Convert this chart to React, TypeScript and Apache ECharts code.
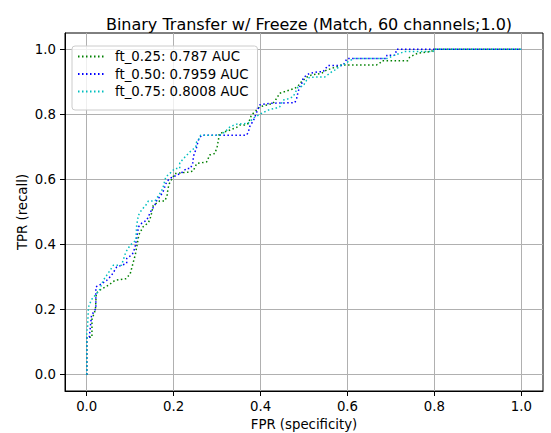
import React, { useEffect, useRef } from "react";
import * as echarts from "echarts";

const TITLE = "Binary Transfer w/ Freeze (Match, 60 channels;1.0)";
const X_NAME = "FPR (specificity)";
const Y_NAME = "TPR (recall)";
const TICKS = [0, 0.2, 0.4, 0.6, 0.8, 1.0];

const NAMES = ["ft_0.25: 0.787 AUC", "ft_0.50: 0.7959 AUC", "ft_0.75: 0.8008 AUC"];
const COLORS = ["#008000", "#0000ff", "#00bfbf"];

const ROC_025: [number, number][] = [
  [0, 0], [0, 0.115], [0.012, 0.115], [0.012, 0.17], [0.02, 0.2], [0.022, 0.25], [0.03, 0.26],
  [0.05, 0.275], [0.065, 0.29], [0.09, 0.295], [0.1, 0.31], [0.107, 0.345], [0.112, 0.37],
  [0.116, 0.4], [0.12, 0.43], [0.13, 0.455], [0.14, 0.465], [0.145, 0.475], [0.15, 0.5],
  [0.153, 0.52], [0.168, 0.534], [0.18, 0.534], [0.185, 0.552], [0.187, 0.572], [0.19, 0.587],
  [0.203, 0.618], [0.234, 0.623], [0.245, 0.626], [0.253, 0.649], [0.276, 0.654], [0.283, 0.675],
  [0.295, 0.68], [0.3, 0.7], [0.303, 0.72], [0.305, 0.741], [0.33, 0.752], [0.345, 0.76],
  [0.352, 0.767], [0.364, 0.767], [0.372, 0.772], [0.379, 0.798], [0.387, 0.808], [0.398, 0.823],
  [0.429, 0.834], [0.437, 0.849], [0.444, 0.865], [0.456, 0.87], [0.479, 0.88], [0.486, 0.887],
  [0.494, 0.9], [0.506, 0.914], [0.517, 0.921], [0.54, 0.926], [0.552, 0.936], [0.563, 0.941],
  [0.575, 0.946], [0.586, 0.952], [0.667, 0.952], [0.674, 0.957], [0.68, 0.965], [0.739, 0.965],
  [0.743, 0.975], [0.752, 0.982], [0.762, 0.988], [0.793, 0.993], [0.8, 1.0], [1.0, 1.0],
];

const ROC_050: [number, number][] = [
  [0, 0], [0, 0.116], [0.006, 0.116], [0.011, 0.182], [0.021, 0.203], [0.021, 0.27], [0.029, 0.275],
  [0.046, 0.29], [0.057, 0.305], [0.069, 0.331], [0.092, 0.342], [0.092, 0.357], [0.105, 0.37],
  [0.111, 0.39], [0.115, 0.42], [0.119, 0.454], [0.126, 0.465], [0.138, 0.475], [0.149, 0.506],
  [0.157, 0.521], [0.159, 0.531], [0.175, 0.56], [0.184, 0.593], [0.191, 0.603], [0.207, 0.613],
  [0.218, 0.62], [0.23, 0.634], [0.239, 0.634], [0.245, 0.654], [0.245, 0.669], [0.252, 0.695],
  [0.257, 0.721], [0.26, 0.729], [0.265, 0.736], [0.368, 0.736], [0.372, 0.746], [0.375, 0.762],
  [0.385, 0.785], [0.39, 0.803], [0.398, 0.829], [0.421, 0.834], [0.479, 0.836], [0.483, 0.849],
  [0.486, 0.867], [0.49, 0.885], [0.494, 0.89], [0.498, 0.911], [0.506, 0.921], [0.513, 0.926],
  [0.532, 0.931], [0.544, 0.931], [0.555, 0.95], [0.59, 0.95], [0.599, 0.972], [0.689, 0.972],
  [0.691, 0.982], [0.71, 0.982], [0.713, 1.0], [1.0, 1.0],
];

const ROC_075: [number, number][] = [
  [0, 0], [0, 0.13], [0.002, 0.15], [0.004, 0.208], [0.011, 0.231], [0.02, 0.245], [0.029, 0.259],
  [0.038, 0.29], [0.054, 0.321], [0.061, 0.336], [0.08, 0.336], [0.09, 0.377], [0.1, 0.398],
  [0.113, 0.413], [0.115, 0.46], [0.119, 0.49], [0.126, 0.506], [0.136, 0.521], [0.142, 0.534],
  [0.157, 0.534], [0.17, 0.56], [0.175, 0.572], [0.182, 0.608], [0.191, 0.618], [0.203, 0.634],
  [0.214, 0.634], [0.214, 0.651], [0.226, 0.669], [0.237, 0.684], [0.251, 0.7], [0.253, 0.716],
  [0.259, 0.726], [0.262, 0.736], [0.306, 0.736], [0.318, 0.746], [0.33, 0.762], [0.345, 0.77],
  [0.37, 0.772], [0.375, 0.777], [0.385, 0.79], [0.402, 0.803], [0.421, 0.815], [0.433, 0.818],
  [0.444, 0.823], [0.452, 0.844], [0.46, 0.846], [0.475, 0.854], [0.486, 0.883], [0.498, 0.887],
  [0.506, 0.905], [0.513, 0.914], [0.548, 0.915], [0.559, 0.926], [0.567, 0.934], [0.575, 0.938],
  [0.581, 0.949], [0.59, 0.952], [0.598, 0.959], [0.605, 0.965], [0.617, 0.972], [0.693, 0.972],
  [0.7, 0.977], [0.709, 0.982], [0.732, 0.993], [0.797, 0.993], [0.8, 1.0], [1.0, 1.0],
];

const CURVES = [ROC_025, ROC_050, ROC_075];

const FONT = "DejaVu Sans";

export default function App() {
  const ref = useRef<HTMLDivElement>(null);
  useEffect(() => {
    if (!ref.current) return;
    document.body.style.margin = "0";
    const chart = echarts.init(ref.current, undefined, { renderer: "svg" });
    const axisCommon = {
      type: "value" as const,
      min: -0.05,
      max: 1.05,
      nameLocation: "middle" as const,
      nameMoveOverlap: false,
      nameTextStyle: { fontFamily: FONT, fontSize: 13.3, color: "#000" },
      axisLine: { show: true, onZero: false, lineStyle: { color: "#000", width: 1 } },
      axisTick: {
        show: true,
        length: 5,
        inside: false,
        customValues: TICKS,
        lineStyle: { color: "#000", width: 1 },
      },
      axisLabel: {
        customValues: TICKS,
        margin: 9,
        fontFamily: FONT,
        fontSize: 13.3,
        color: "#000",
        formatter: (v: number) => v.toFixed(1),
      },
      splitLine: { show: true, lineStyle: { color: "#b0b0b0", width: 1 } },
    };
    chart.setOption({
      animation: false,
      backgroundColor: "#fff",
      title: {
        text: TITLE,
        left: 304,
        top: 11,
        textAlign: "center",
        textStyle: { fontFamily: FONT, fontSize: 16, fontWeight: "normal", color: "#000" },
      },
      grid: {
        left: 65,
        top: 33,
        width: 478,
        height: 358,
        outerBoundsMode: "none",
        containLabel: false,
        show: true,
        borderColor: "#000",
        borderWidth: 1,
        backgroundColor: "transparent",
      },
      xAxis: { ...axisCommon, name: X_NAME, nameGap: 27 },
      yAxis: { ...axisCommon, name: Y_NAME, nameGap: 36 },
      legend: {
        orient: "vertical",
        left: 72,
        top: 46,
        padding: [4, 9, 12, 5],
        itemGap: 4.5,
        itemWidth: 26,
        itemHeight: 14,
        backgroundColor: "rgba(255,255,255,0.8)",
        borderColor: "#cccccc",
        borderWidth: 1,
        borderRadius: 3,
        itemStyle: { opacity: 0 },
        textStyle: { fontFamily: FONT, fontSize: 13.3, color: "#000", padding: [0, 0, 0, 6] },
        data: NAMES,
      },
      series: CURVES.map((d, i) => ({
        name: NAMES[i],
        type: "line",
        data: d,
        showSymbol: false,
        symbol: "none",
        color: COLORS[i],
        lineStyle: { color: COLORS[i], width: 1.5, type: [1.5, 2.5], cap: "butt" },
        z: 3 + i,
      })),
    });
    return () => chart.dispose();
  }, []);
  return <div ref={ref} style={{ width: 551, height: 433 }} />;
}
